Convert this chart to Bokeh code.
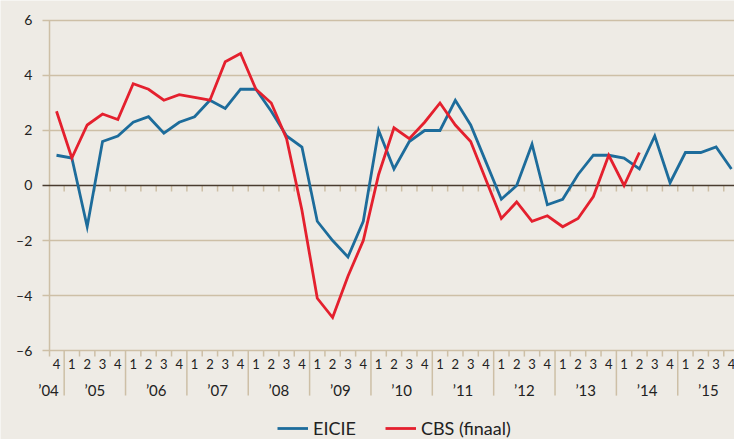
from bokeh.plotting import figure
from bokeh.models import Range1d, Legend, LegendItem, ColumnDataSource
from bokeh.core.properties import value
from bokeh.embed import file_html
from bokeh.resources import INLINE

# ---- data ----
quarter_labels = ["4"] + ["1", "2", "3", "4"] * 11
year_labels = ["’04", "’05", "’06", "’07", "’08", "’09", "’10",
               "’11", "’12", "’13", "’14", "’15"]
eicie = [1.1, 1.0, -1.5, 1.6, 1.8, 2.3, 2.5, 1.9, 2.3, 2.5, 3.1, 2.8, 3.5,
         3.5, 2.7, 1.8, 1.4, -1.3, -2.0, -2.6, -1.3, 2.0, 0.6, 1.6, 2.0,
         2.0, 3.1, 2.2, 0.85, -0.5, 0.0, 1.5, -0.7, -0.5, 0.4, 1.1, 1.1,
         1.0, 0.6, 1.8, 0.1, 1.2, 1.2, 1.4, 0.6]
cbs = [2.7, 1.0, 2.2, 2.6, 2.4, 3.7, 3.5, 3.1, 3.3, 3.2, 3.1, 4.5, 4.8,
       3.5, 3.0, 1.7, -0.9, -4.1, -4.8, -3.3, -2.0, 0.4, 2.1, 1.7, 2.3,
       3.0, 2.2, 1.6, 0.2, -1.2, -0.6, -1.3, -1.1, -1.5, -1.2, -0.4, 1.1,
       0.0, 1.2]
y_ticks = [-6, -4, -2, 0, 2, 4, 6]
y_tick_labels = ["–6", "–4", "–2", "0", "2", "4", "6"]

BG = "#eeebe5"
TAN = "#cdbfa6"
DARK = "#4a3c30"
BLUE = "#1d6c9b"
RED = "#e4202e"
FONT = "Lato"
TXT = "#222222"

n = len(quarter_labels)
xq = list(range(n))

X0 = -3.651          # left edge of the canvas in quarter units
AXIS_X = -0.456      # position of the vertical axis
TICK_X = -0.913      # left end of the y ticks
LABEL_X = -1.58      # right edge of y tick labels
X_END = 44.2

p = figure(width=734, height=439, output_backend="svg", toolbar_location=None,
           x_range=Range1d(X0, X_END), y_range=Range1d(-9.236, 6.727),
           min_border_left=0, min_border_top=0, min_border_right=0,
           min_border_bottom=0, background_fill_color=BG,
           border_fill_color=BG, outline_line_color=None)
p.axis.visible = False
p.grid.visible = False

# horizontal grid lines (+ ticks out to the left)
gy = [t for t in y_ticks if t != 0]
p.segment(x0=[TICK_X] * len(gy), y0=gy, x1=[X_END + 1] * len(gy), y1=gy,
          line_color=TAN, line_width=1.5)
# vertical axis line
p.segment(x0=[AXIS_X], y0=[-6.22], x1=[AXIS_X], y1=[6],
          line_color=TAN, line_width=1.5)

# ticks below zero line at quarter boundaries
bounds = [i + 0.5 for i in range(0, n)]
p.segment(x0=bounds, y0=[0] * len(bounds), x1=bounds,
          y1=[-0.22] * len(bounds), line_color=TAN, line_width=1.5)
# zero line
p.segment(x0=[TICK_X], y0=[0], x1=[X_END + 1], y1=[0],
          line_color=DARK, line_width=1.5)

# y tick labels
p.text(x=[LABEL_X] * len(y_ticks), y=y_ticks, text=y_tick_labels,
       text_align="right", text_baseline="middle", text_font=value(FONT),
       text_font_size="14px", text_color=TXT)

# bottom axis: short ticks and year separators
year_bounds = [b for b in bounds if (b - 0.5) % 4 == 0]
short = [b for b in bounds if b not in year_bounds]
p.segment(x0=short, y0=[-6] * len(short), x1=short, y1=[-6.22] * len(short),
          line_color=TAN, line_width=1.5)
p.segment(x0=year_bounds, y0=[-6] * len(year_bounds), x1=year_bounds,
          y1=[-7.64] * len(year_bounds), line_color=TAN, line_width=1.5)

# quarter labels
p.text(x=xq, y=[-6.5] * n, text=quarter_labels, text_align="center",
       text_baseline="middle", text_font=value(FONT), text_font_size="13px",
       text_color=TXT)

# year labels
yx = [0.15] + [4 * k - 1.5 for k in range(1, len(year_labels))]
ya = ["right"] + ["center"] * (len(year_labels) - 1)
ysrc = ColumnDataSource(dict(x=yx, y=[-7.42] * len(yx), t=year_labels, a=ya))
p.text(x="x", y="y", text="t", text_align="a", source=ysrc,
       text_baseline="middle", text_font=value(FONT), text_font_size="15px",
       text_color=TXT)

# series
r1 = p.line(xq, eicie, line_color=BLUE, line_width=2.8, line_join="miter")
r2 = p.line(xq[:len(cbs)], cbs, line_color=RED, line_width=2.8, line_join="miter")

legend = Legend(items=[LegendItem(label="EICIE", renderers=[r1]),
                       LegendItem(label="CBS (finaal)", renderers=[r2])],
                orientation="horizontal", location=(277, 0),
                background_fill_alpha=0, border_line_alpha=0,
                label_text_font=FONT, label_text_font_size="18px",
                label_text_color=TXT, glyph_width=31, glyph_height=20,
                label_height=20, label_standoff=5, spacing=29,
                padding=0, margin=0)
p.add_layout(legend, "center")

open("out.html", "w").write(file_html(p, INLINE))
